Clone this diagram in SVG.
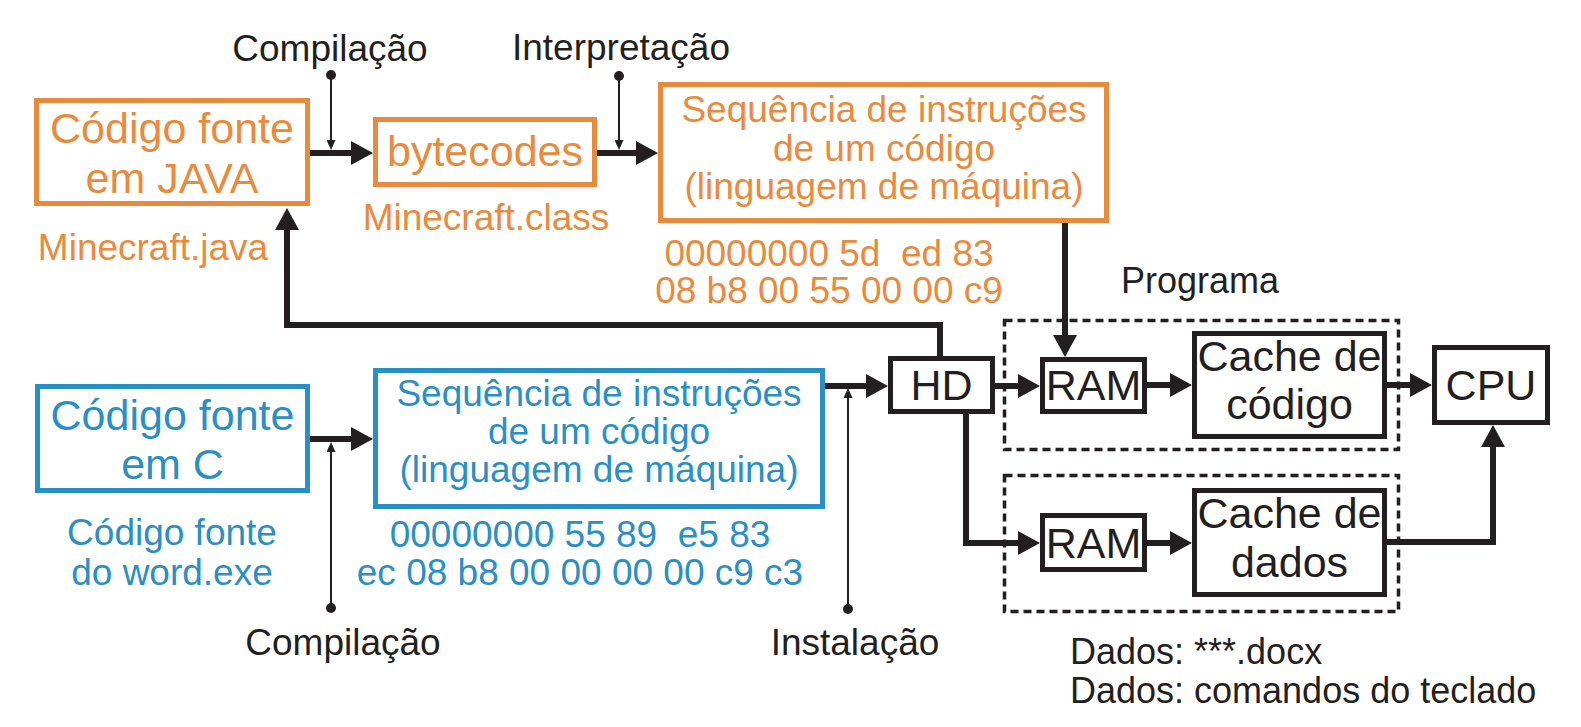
<svg xmlns="http://www.w3.org/2000/svg" width="1581" height="727" viewBox="0 0 1581 727">
<style>
text{font-family:"Liberation Sans",Arial,Helvetica,sans-serif;text-anchor:middle}
.or{fill:#E98A3D}
.bl{fill:#2A8FC5}
.bk{fill:#231F20}
.t{font-size:43px}
.s{font-size:37px}
.boxo{fill:none;stroke:#E98A3D;stroke-width:5}
.boxb{fill:none;stroke:#2A8FC5;stroke-width:5}
.boxk{fill:none;stroke:#231F20;stroke-width:5}
.dash{fill:none;stroke:#231F20;stroke-width:3.5;stroke-dasharray:8 5}
.thick{fill:none;stroke:#231F20;stroke-width:6;marker-end:url(#ah)}
.thin{fill:none;stroke:#231F20;stroke-width:2;marker-end:url(#ahs)}
.dot{fill:#231F20}
</style>
<defs>
<marker id="ah" markerUnits="userSpaceOnUse" markerWidth="22" markerHeight="24" viewBox="0 0 22 24" refX="12" refY="12" orient="auto">
<path d="M0,0 L22,12 L0,24 z" fill="#231F20"/>
</marker>
<marker id="ahs" markerUnits="userSpaceOnUse" markerWidth="10" markerHeight="9" viewBox="0 0 10 9" refX="6" refY="4.5" orient="auto">
<path d="M0,0 L10,4.5 L0,9 z" fill="#231F20"/>
</marker>
</defs>
<rect width="1581" height="727" fill="#ffffff"/>

<g id="connectors">
<path class="thick" d="M310,153 H363"/>
<path class="thick" d="M597,153 H648"/>
<path class="thick" d="M1065,223 V347"/>
<path class="thick" d="M310,439 H363"/>
<path class="thick" d="M825,386 H878"/>
<path class="thick" d="M995,386 H1030"/>
<path class="thick" d="M940,356 V325 H287 V218"/>
<path class="thick" d="M966,414 V543 H1030"/>
<path class="thick" d="M1147,385 H1182"/>
<path class="thick" d="M1147,543 H1182"/>
<path class="thick" d="M1387,385 H1422"/>
<path class="thick" d="M1387,542 H1493 V435"/>
<path class="thin" d="M331,75 V146"/>
<circle class="dot" cx="331" cy="75" r="5"/>
<path class="thin" d="M619,76 V146"/>
<circle class="dot" cx="619" cy="76" r="5"/>
<path class="thin" d="M331,608 V446"/>
<circle class="dot" cx="331" cy="608" r="5"/>
<path class="thin" d="M848,609 V392"/>
<circle class="dot" cx="848" cy="609" r="5"/>
</g>

<g id="label-compilacao-top"><text class="bk s" x="330" y="61">Compilação</text></g>
<g id="label-interpretacao"><text class="bk s" x="621" y="60">Interpretação</text></g>

<g id="java-source">
<rect class="boxo" x="36.5" y="100.5" width="271" height="103"/>
<text class="or t" x="172" y="143">Código fonte</text>
<text class="or t" x="172" y="193">em JAVA</text>
<text class="or s" x="153" y="260">Minecraft.java</text>
</g>

<g id="bytecodes">
<rect class="boxo" x="375.5" y="119.5" width="219" height="65"/>
<text class="or t" x="485" y="166">bytecodes</text>
<text class="or s" x="486" y="230">Minecraft.class</text>
</g>

<g id="java-machine">
<rect class="boxo" x="660.5" y="84.5" width="446" height="136"/>
<text class="or s" x="884" y="122">Sequência de instruções</text>
<text class="or s" x="884" y="161">de um código</text>
<text class="or s" x="884" y="199">(linguagem de máquina)</text>
<text class="or s" x="829" y="266" xml:space="preserve">00000000 5d  ed 83</text>
<text class="or s" x="829" y="303">08 b8 00 55 00 00 c9</text>
</g>

<g id="c-source">
<rect class="boxb" x="37.5" y="386.5" width="270" height="104"/>
<text class="bl t" x="172.5" y="430">Código fonte</text>
<text class="bl t" x="172.5" y="479">em C</text>
<text class="bl s" x="172" y="545">Código fonte</text>
<text class="bl s" x="172" y="585">do word.exe</text>
</g>

<g id="c-machine">
<rect class="boxb" x="375.5" y="370.5" width="447" height="136"/>
<text class="bl s" x="599" y="406">Sequência de instruções</text>
<text class="bl s" x="599" y="444">de um código</text>
<text class="bl s" x="599" y="482">(linguagem de máquina)</text>
<text class="bl s" x="580" y="547" xml:space="preserve">00000000 55 89  e5 83</text>
<text class="bl s" x="580" y="585">ec 08 b8 00 00 00 00 c9 c3</text>
</g>

<g id="label-compilacao-bottom"><text class="bk s" x="343" y="655">Compilação</text></g>
<g id="label-instalacao"><text class="bk s" x="855" y="655">Instalação</text></g>

<g id="hd">
<rect class="boxk" x="890.5" y="358.5" width="102" height="53"/>
<text class="bk t" x="941.5" y="400">HD</text>
</g>

<g id="programa">
<rect class="dash" x="1004.5" y="320.5" width="394" height="129"/>
<text class="bk" x="1200" y="293" style="font-size:36px">Programa</text>
</g>

<g id="dados">
<rect class="dash" x="1004.5" y="475.5" width="394" height="136"/>
<text class="bk" x="1070" y="664" style="font-size:36px;text-anchor:start">Dados: ***.docx</text>
<text class="bk" x="1070" y="703" style="font-size:36px;text-anchor:start">Dados: comandos do teclado</text>
</g>

<g id="ram-code">
<rect class="boxk" x="1042.5" y="359.5" width="102" height="52"/>
<text class="bk t" x="1093.5" y="400">RAM</text>
</g>

<g id="ram-data">
<rect class="boxk" x="1042.5" y="515.5" width="102" height="54"/>
<text class="bk t" x="1093.5" y="558">RAM</text>
</g>

<g id="cache-code">
<rect class="boxk" x="1194.5" y="333.5" width="190" height="103"/>
<text class="bk t" x="1289.5" y="371">Cache de</text>
<text class="bk t" x="1289.5" y="419">código</text>
</g>

<g id="cache-data">
<rect class="boxk" x="1194.5" y="490.5" width="190" height="104"/>
<text class="bk t" x="1289.5" y="528">Cache de</text>
<text class="bk t" x="1289.5" y="577">dados</text>
</g>

<g id="cpu">
<rect class="boxk" x="1434.5" y="347.5" width="113" height="75"/>
<text class="bk t" x="1491" y="400">CPU</text>
</g>
</svg>
